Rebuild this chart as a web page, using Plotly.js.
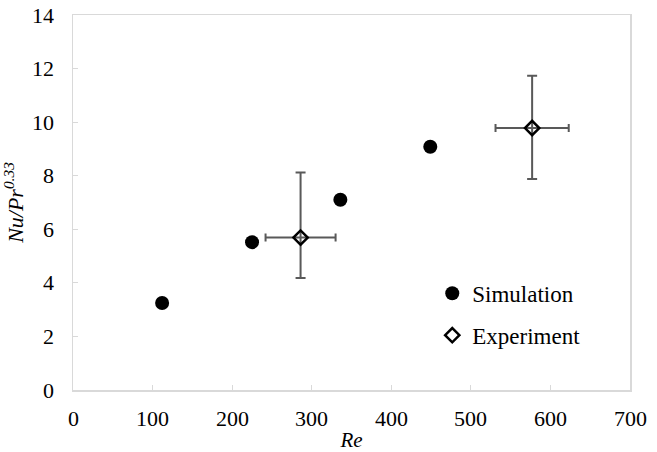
<!DOCTYPE html>
<html><head><meta charset="utf-8">
<script src="https://cdn.plot.ly/plotly-3.0.1.min.js"></script>
<style>
html,body{margin:0;padding:0;background:#fff}
#chart text{font-family:"Liberation Serif","Times New Roman",serif !important}
</style>
</head><body><div id="chart" style="width:657px;height:452px"></div>
<script>
const simRe = [112, 225, 336, 449];
const simNu = [3.25, 5.52, 7.1, 9.08];
const expRe = [286, 577];
const expNu = [5.69, 9.78];
const expReErr = [44, 46];
const expNuErrPlus = [2.43, 1.95];
const expNuErrMinus = [1.51, 1.9];
const xTicks = [0, 100, 200, 300, 400, 500, 600, 700];
const yTicks = [0, 2, 4, 6, 8, 10, 12, 14];

const fam = 'Liberation Serif';
function f(size) { return {family: fam, size: size, color: '#000'}; }
function axis(extra) {
  return Object.assign({showline: true, mirror: true, linecolor: '#d9d9d9', linewidth: 1.5,
    showgrid: false, zeroline: false, ticks: 'inside', ticklen: 5, tickcolor: '#d9d9d9',
    showticklabels: false}, extra);
}
const traces = [
  {x: simRe, y: simNu, type: 'scatter', mode: 'markers', name: 'Simulation',
   marker: {symbol: 'circle', size: 14, color: '#000'}, legend: 'legend'},
  {x: expRe, y: expNu, type: 'scatter', mode: 'markers', name: 'Experiment',
   marker: {symbol: 'diamond-open', size: 11, color: '#000', line: {width: 2.5, color: '#000'}},
   error_x: {type: 'data', array: expReErr, color: '#595959', thickness: 2, width: 4},
   error_y: {type: 'data', symmetric: false, array: expNuErrPlus, arrayminus: expNuErrMinus, color: '#595959', thickness: 2, width: 5},
   legend: 'legend2'}
];
const annotations = [];
xTicks.forEach(v => annotations.push({x: v, xref: 'x', y: 0, yref: 'paper', text: String(v),
  showarrow: false, xanchor: 'center', yanchor: 'top', yshift: -14, font: f(22)}));
yTicks.forEach(v => annotations.push({x: 0, xref: 'paper', y: v, yref: 'y', text: String(v),
  showarrow: false, xanchor: 'right', yanchor: 'middle', xshift: -17, font: f(22)}));
const layout = {
  width: 657, height: 452,
  margin: {l: 73, r: 27, t: 15, b: 62},
  paper_bgcolor: '#fff', plot_bgcolor: '#fff',
  font: f(20),
  annotations: annotations,
  xaxis: axis({range: [0, 700], tickvals: xTicks,
    title: {text: '<i>Re</i>', font: f(21), standoff: 42}}),
  yaxis: axis({range: [0, 14], tickvals: yTicks,
    title: {text: '<i>Nu/Pr<sup>0.33</sup></i>', font: f(22), standoff: 42}}),
  showlegend: true,
  legend: {x: 0.645, y: 0.258, xanchor: 'left', yanchor: 'middle', bgcolor: 'rgba(0,0,0,0)',
    font: f(23), itemwidth: 30},
  legend2: {x: 0.645, y: 0.146, xanchor: 'left', yanchor: 'middle', bgcolor: 'rgba(0,0,0,0)',
    font: f(23), itemwidth: 30}
};
Plotly.newPlot('chart', traces, layout, {displayModeBar: false, staticPlot: true});
</script></body></html>
